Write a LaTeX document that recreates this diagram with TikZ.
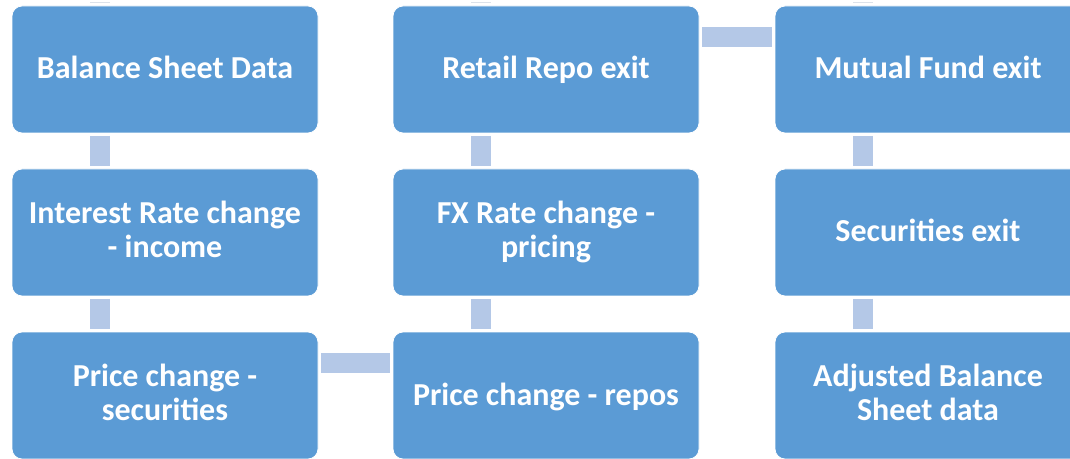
\documentclass[tikz,border=0pt]{standalone}
\usepackage{fontspec}
\setmainfont{Carlito}
\usetikzlibrary{positioning}

\definecolor{boxblue}{HTML}{5B9BD5}
\definecolor{linkblue}{HTML}{B4C8E7}
\definecolor{stubgray}{HTML}{DCE2EA}

% even line height, so one-line boxes sit like two-line ones
\newcommand{\boxstrut}{\rule[-6pt]{0pt}{31pt}}

\tikzset{
    stepbox/.style={rectangle, rounded corners=10pt, fill=boxblue, draw=white, line width=0.8pt,
        minimum width=306pt, minimum height=127pt, outer sep=0pt, text=white, align=center,
        font=\fontsize{32}{34}\selectfont\bfseries,
        execute at begin node=\boxstrut, execute at end node=\boxstrut},
    vlink/.style={linkblue, line width=20pt, shorten <=3pt, shorten >=3pt},
    hlink/.style={linkblue, line width=20pt, shorten <=3pt, shorten >=3pt},
}

\begin{document}
\begin{tikzpicture}[x=1pt, y=1pt, node distance=36pt and 75pt]
    % Frame
    \clip (0,0) rectangle (1070,458);
    \fill[white] (0,0) rectangle (1070,458);

    % First column
    \node[stepbox] (bsd) at (165,388.5) {Balance Sheet Data};
    \node[stepbox, below=of bsd] (irate) {Interest Rate change\\- income};
    \node[stepbox, below=of irate] (psec) {Price change -\\securities};

    % Second column
    \node[stepbox, right=of psec] (prepo) {Price change - repos};
    \node[stepbox, above=of prepo] (fx) {FX Rate change -\\pricing};
    \node[stepbox, above=of fx] (retail) {Retail Repo exit};

    % Third column
    \node[stepbox, right=76pt of retail] (mfund) {Mutual Fund exit};
    \node[stepbox, below=of mfund] (secexit) {Securities exit};
    \node[stepbox, below=of secexit] (adjbs) {Adjusted Balance\\Sheet data};

    % Vertical links
    \foreach \a/\b in {bsd/irate, irate/psec, retail/fx, fx/prepo, mfund/secexit, secexit/adjbs}
    {
        \draw[vlink] ([xshift=-65pt]\a.south) -- ([xshift=-65pt]\b.north);
    }

    % Horizontal links
    \draw[hlink] ([yshift=32.5pt]psec.east) -- ([yshift=32.5pt]prepo.west);
    \draw[hlink] ([yshift=32.5pt]retail.east) -- ([yshift=32.5pt]mfund.west);

    % Stubs above the top row
    \foreach \n in {bsd, retail, mfund}
    {
        \draw[stubgray, line width=1pt] ([xshift=-75pt, yshift=3pt]\n.north) -- ([xshift=-55pt, yshift=3pt]\n.north);
    }
\end{tikzpicture}
\end{document}
